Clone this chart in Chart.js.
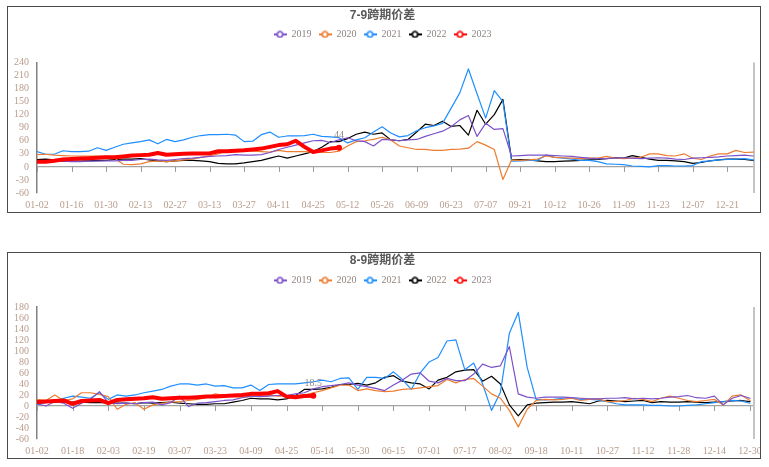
<!DOCTYPE html>
<html><head><meta charset="utf-8">
<script src="https://cdn.jsdelivr.net/npm/chart.js@4.4.0/dist/chart.umd.min.js"></script>
<style>
html,body{margin:0;padding:0;background:#fff;}
.frame{position:absolute;left:7px;width:752px;height:205px;border:1px solid #4a4a4a;background:#fff;}
#f1{top:6px;} #f2{top:252px;}
canvas{display:block;}
</style></head><body>
<div class="frame" id="f1"><canvas id="c1" width="752" height="205"></canvas></div>
<div class="frame" id="f2"><canvas id="c2" width="752" height="205"></canvas></div>
<script>
// ---------- shared ----------
const seriesNames = ['2019','2020','2021','2022','2023'];
const seriesColors = ['#7b52c9','#ED7D31','#1f8fff','#000000','#ff0000'];

// ---------- panel 1 : 7-9 spread ----------
const title79 = '7-9跨期价差';
const ticks79 = ['01-02','01-16','01-30','02-13','02-27','03-13','03-27','04-11','04-25','05-12','05-26','06-09','06-23','07-07','09-21','10-12','10-26','11-09','11-23','12-07','12-21'];
const s79_2019 = [12,12,13,13,12,12,13,13,14,14,15,15,17,18,16,15,17,19,20,22,24,25,26,28,27,27,28,33,
40,45,50,55,60,61,56,62,67,60,58,48,63,62,60,62,63,70,76,82,92,108,118,70,100,86,88,25,
26,27,27,27,26,25,24,22,20,19,19,20,21,20,19,20,21,20,18,17,20,21,22,23,25,26,27,25];
const s79_2020 = [28,29,27,26,25,25,25,25,24,20,6,5,7,12,14,12,14,16,18,22,25,30,37,38,37,36,35,34,
38,35,35,35,34,33,33,36,48,58,60,63,68,62,48,44,40,40,38,38,40,41,43,58,50,40,-29,16,
15,16,18,25,22,21,20,19,20,20,24,20,19,20,22,30,30,26,25,30,20,17,25,30,30,38,33,34];
const s79_2021 = [35,29,29,37,35,35,36,44,38,45,52,55,58,62,53,63,58,62,68,72,74,74,75,73,58,59,74,80,
68,71,71,72,75,70,69,67,55,62,67,80,92,78,69,72,83,90,94,100,135,170,225,168,112,175,150,13,
14,15,15,27,22,20,18,15,15,12,7,6,5,2,1,0,3,3,2,2,3,12,14,16,17,18,19,16];
const s79_2022 = [17,18,16,13,13,13,14,15,15,17,18,18,19,16,14,12,14,15,15,14,12,8,7,7,9,12,15,20,
25,20,25,30,35,45,58,58,65,75,80,75,78,62,60,63,80,98,95,105,93,95,73,130,98,120,155,17,
17,16,14,12,12,13,14,15,16,17,19,21,20,26,22,18,15,15,14,12,8,10,14,16,18,18,17,15];
const s79_2023 = [12,12,14,17,18,19,20,21,22,22,24,26,27,28,32,28,29,30,31,31,31,36,36,37,38,40,42,46,50,52,60,46,34,38,42,44];

// ---------- panel 2 : 8-9 spread ----------
const title89 = '8-9跨期价差';
const ticks89 = ['01-02','01-18','02-03','02-19','03-07','03-23','04-09','04-25','05-14','05-30','06-15','07-01','07-17','08-02','09-18','10-11','10-27','11-12','11-28','12-14','12-30'];
const s89_2019 = [4,0,8,5,-4,5,12,26,6,4,5,4,6,7,2,6,18,-1,5,6,8,10,11,15,18,17,18,
19,19,22,24,31,35,37,39,42,38,35,32,28,38,47,58,60,45,42,50,46,46,58,76,70,73,108,22,16,14,
16,16,16,15,14,13,13,14,14,15,13,14,13,14,16,17,19,15,14,18,2,14,19,14];
const s89_2020 = [12,10,20,10,13,24,24,21,17,-6,3,6,-6,2,5,7,8,10,12,15,22,19,17,16,17,19,20,
18,18,19,20,24,28,33,38,38,28,31,28,26,27,30,31,33,35,37,48,42,48,50,36,22,14,-8,-38,-6,10,
12,11,12,14,10,12,13,8,8,10,14,12,8,14,18,14,10,8,10,12,2,18,20,10];
const s89_2021 = [3,6,10,14,18,16,14,24,12,20,18,20,24,27,30,36,40,40,38,40,36,37,33,33,38,28,39,
40,40,40,42,44,47,44,50,51,30,52,52,50,62,48,30,60,80,88,118,120,66,78,40,-8,25,132,170,70,12,
11,12,14,14,12,12,11,8,4,2,2,2,1,1,0,0,1,2,4,6,8,10,9,5];
const s89_2022 = [8,8,8,7,7,7,6,6,6,5,5,4,6,5,6,7,5,4,3,3,4,4,7,10,14,13,13,
11,13,19,30,30,31,34,39,39,41,38,42,52,55,45,42,40,31,47,52,62,65,66,45,54,40,2,-18,2,5,
6,7,7,8,6,4,9,10,9,8,9,10,6,8,7,7,8,7,6,7,8,9,10,8];
const s89_2023 = [7,8,9,10,4,9,10,11,5,11,12,13,14,16,13,14,15,15,16,17,17,18,19,20,22,22,23,27,17,16,18,18.5];

const STEPS_PER_LABEL = 4; // data samples between two date labels

const axisText = '#b89c8c';
const serif = "'Liberation Serif', 'DejaVu Serif', serif";

function legendIcon(color){
  const c = document.createElement('canvas'); c.width = 13; c.height = 8;
  const g = c.getContext('2d');
  g.strokeStyle = color; g.lineWidth = 2;
  g.beginPath(); g.moveTo(0,4); g.lineTo(13,4); g.stroke();
  g.beginPath(); g.arc(6.5,4,2.7,0,Math.PI*2); g.fillStyle = '#fff'; g.fill();
  g.lineWidth = 1.6; g.stroke();
  return c;
}
const icons = seriesColors.map(legendIcon);

const decor = {
  id: 'decor',
  beforeInit(chart, args, opts){
    const orig = chart.legend.fit;
    chart.legend.fit = function(){ orig.call(chart.legend); this.height += opts.legendGap; };
  },
  beforeDatasetsDraw(chart){
    const {ctx, chartArea: a, scales: {x, y}} = chart;
    const y0 = y.getPixelForValue(0);
    ctx.save();
    ctx.strokeStyle = '#9a9a9a'; ctx.lineWidth = 1;
    x.ticks.forEach(t => {
      if (t.value % STEPS_PER_LABEL !== 0) return;
      const px = Math.round(x.getPixelForValue(t.value)) + 0.5;
      ctx.beginPath(); ctx.moveTo(px, y0); ctx.lineTo(px, y0 + 5); ctx.stroke();
    });
    ctx.strokeStyle = '#c4c4c4'; ctx.lineWidth = 2;
    ctx.beginPath(); ctx.moveTo(a.right, a.top); ctx.lineTo(a.right, a.bottom); ctx.stroke();
    ctx.restore();
  },
  afterDatasetsDraw(chart){
    const last = chart.data.datasets.length - 1;
    const ds = chart.data.datasets[last];
    const pts = chart.getDatasetMeta(last).data;
    const p = pts[pts.length - 1];
    const ctx = chart.ctx;
    ctx.save();
    ctx.font = "10px " + serif; ctx.fillStyle = '#948a84';
    ctx.textAlign = 'center'; ctx.textBaseline = 'middle';
    ctx.fillText(String(ds.data[ds.data.length - 1].y), p.x, p.y - 12);
    ctx.restore();
  }
};

function makeChart(id, title, tickLabels, series, yMin, yMax, yStep, xMax, cfg){
  const datasets = series.map((vals, i) => {
    const isCur = i === series.length - 1;
    return {
      label: seriesNames[i],
      data: vals.map((v, k) => ({x: k, y: v})),
      borderColor: seriesColors[i],
      backgroundColor: seriesColors[i],
      borderWidth: isCur ? 4 : 1.2,
      pointRadius: isCur ? (c => c.dataIndex === vals.length - 1 ? 3 : 0) : 0,
      pointBorderWidth: 0,
      tension: 0,
      borderCapStyle: 'round',
      borderJoinStyle: 'round',
      order: isCur ? -1 : i
    };
  });
  return new Chart(document.getElementById(id), {
    type: 'line',
    data: {datasets},
    plugins: [decor],
    options: {
      responsive: false, animation: false, devicePixelRatio: 1, events: [],
      layout: {padding: {left: 0, right: 3, top: 0, bottom: 0}, autoPadding: false},
      plugins: {
        decor: {legendGap: cfg.legendGap},
        tooltip: {enabled: false},
        title: {display: true, text: title, color: '#595959',
          font: {family: "'Liberation Sans', 'Noto Sans CJK SC', sans-serif", size: 12, weight: 'bold'},
          padding: {top: cfg.titleTop, bottom: cfg.titleBottom}},
        legend: {display: true, position: 'top',
          labels: {usePointStyle: true, pointStyleWidth: 13, padding: 7, color: '#8f8580',
            font: {family: serif, size: 10},
            generateLabels: (chart) => chart.data.datasets.map((d, i) => ({
              text: d.label, pointStyle: icons[i], fillStyle: d.borderColor, strokeStyle: d.borderColor,
              lineWidth: 0, hidden: false, datasetIndex: i, fontColor: '#8f8580'}))}}
      },
      scales: {
        x: {type: 'linear', min: 0, max: xMax,
          afterFit(s){ s.height = 19; },
          afterBuildTicks(s){
            const t = tickLabels.map((_, i) => ({value: i * STEPS_PER_LABEL}));
            t.push({value: xMax});
            s.ticks = t;
          },
          grid: {display: false, drawTicks: false}, border: {display: false},
          ticks: {autoSkip: false, maxRotation: 0, minRotation: 0, padding: 6, color: axisText,
            font: {family: serif, size: 10},
            callback: (v) => (v % STEPS_PER_LABEL === 0) ? tickLabels[v / STEPS_PER_LABEL] : ''}},
        y: {min: yMin, max: yMax,
          afterFit(s){ s.width = 29; },
          ticks: {stepSize: yStep, autoSkip: false, padding: 8, color: axisText, font: {family: serif, size: 10}},
          grid: {drawTicks: false, lineWidth: 1.3,
            color: (c) => (c.tick && c.tick.value === 0) ? '#a3a3a3' : 'rgba(0,0,0,0)'},
          border: {color: '#808080', width: 1.5}}
      }
    }
  });
}

makeChart('c1', title79, ticks79, [s79_2019, s79_2020, s79_2021, s79_2022, s79_2023], -60, 240, 30, 83.1,
  {titleTop: 1, titleBottom: 0, legendGap: 13});
makeChart('c2', title89, ticks89, [s89_2019, s89_2020, s89_2021, s89_2022, s89_2023], -60, 180, 20, 80.45,
  {titleTop: 0, titleBottom: 1, legendGap: 11.5});
</script>
</body></html>
